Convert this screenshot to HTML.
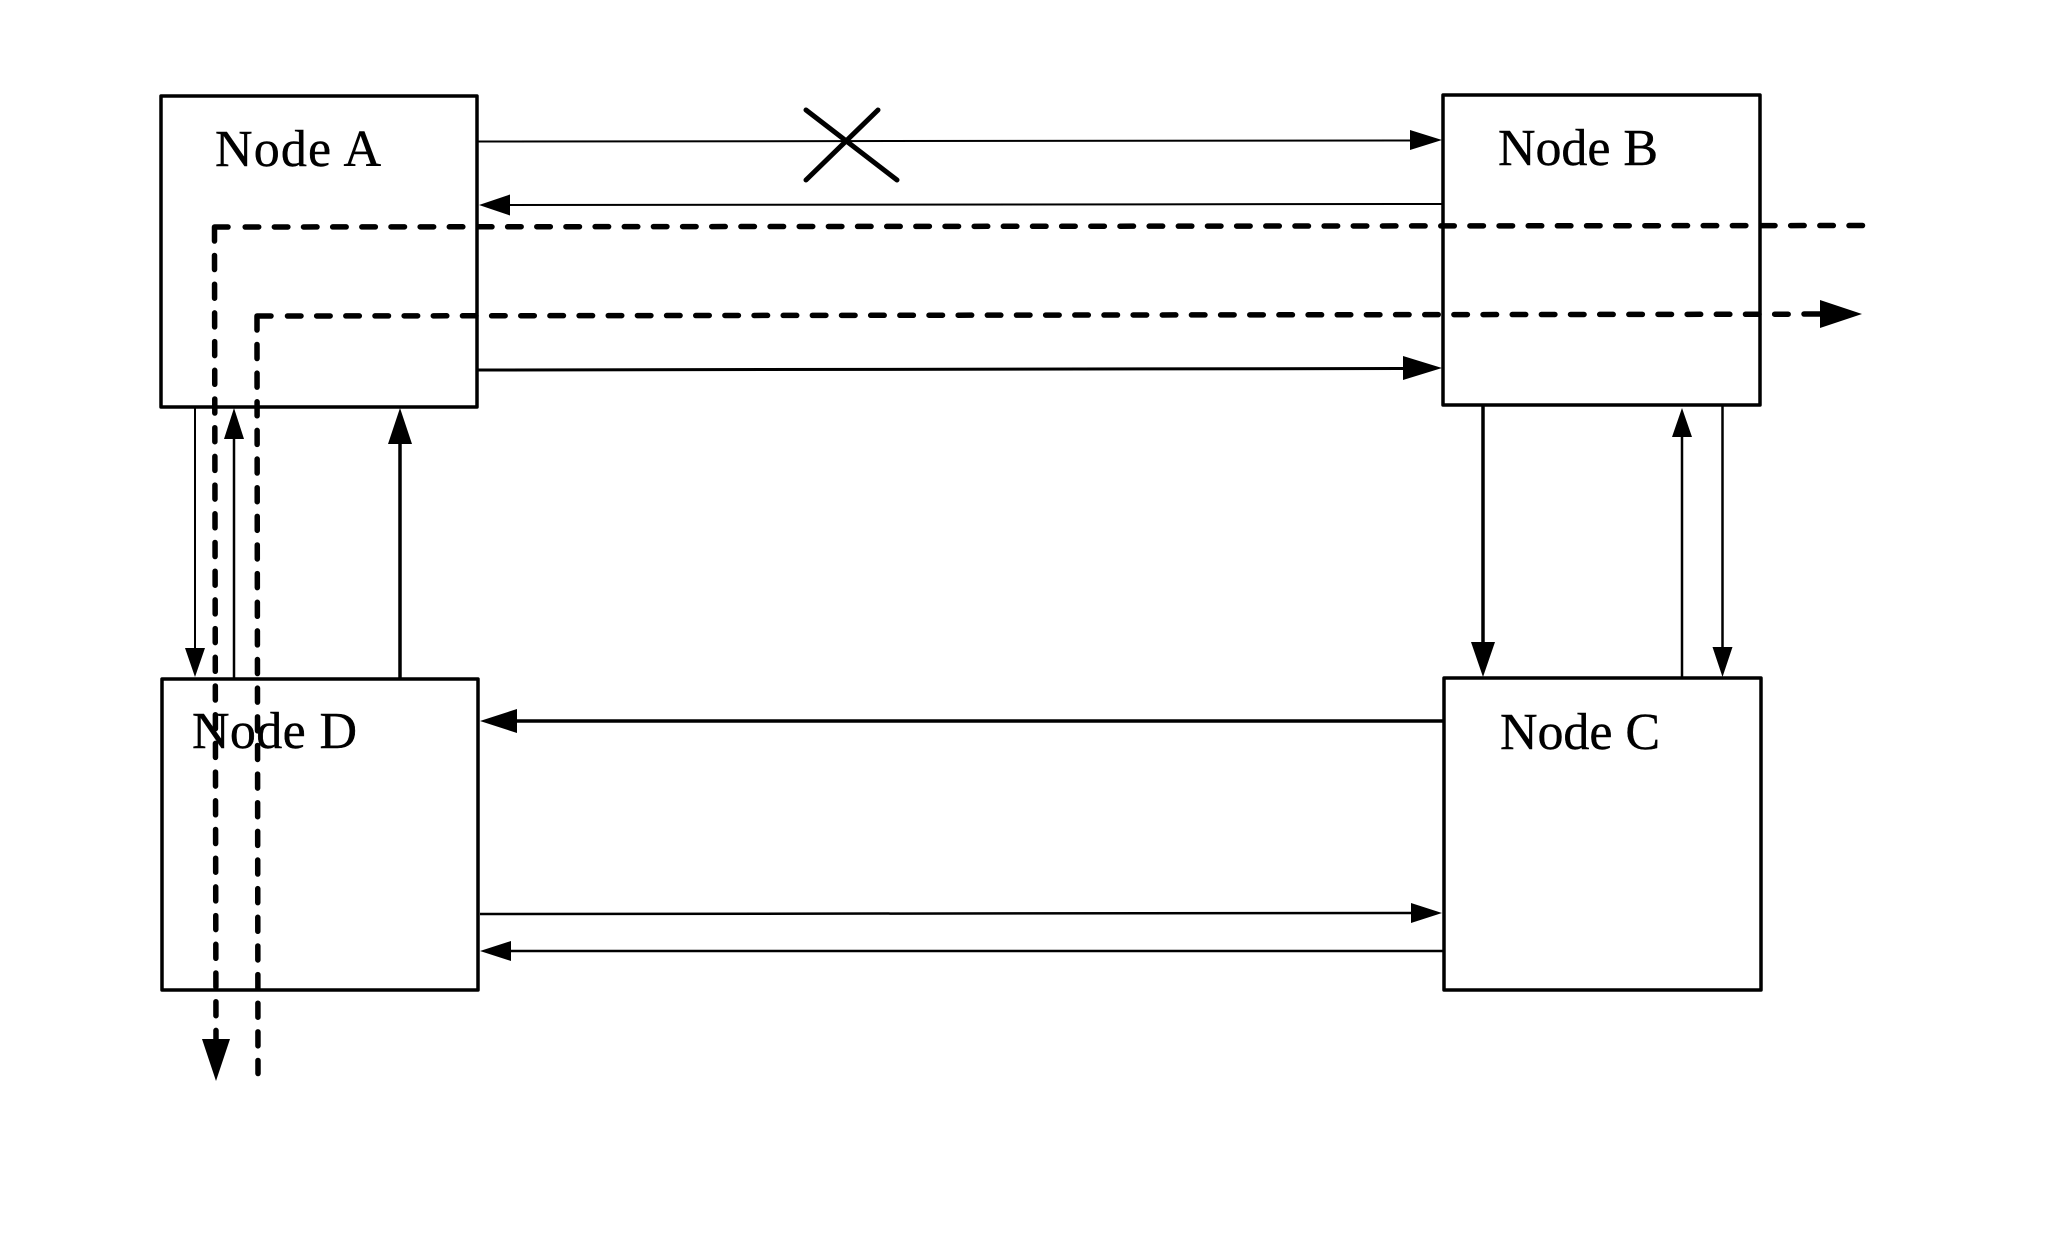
<!DOCTYPE html>
<html>
<head>
<meta charset="utf-8">
<style>
html,body{margin:0;padding:0;background:#fff;}
svg{display:block;}
text{font-family:"Liberation Serif",serif;font-size:52px;fill:#000;stroke:#000;stroke-width:0.4px;}
</style>
</head>
<body>
<svg width="2066" height="1237" viewBox="0 0 2066 1237" xmlns="http://www.w3.org/2000/svg">
<rect width="2066" height="1237" fill="#fff"/>
<!-- Nodes -->
<g fill="none" stroke="#000" stroke-width="3.5" stroke-linejoin="round">
<rect x="161" y="96" width="316" height="311"/>
<rect x="1443" y="95" width="317" height="310"/>
<rect x="1444" y="678" width="317" height="312"/>
<rect x="162" y="679" width="316" height="311"/>
</g>
<!-- Labels -->
<text x="215" y="166" textLength="166" lengthAdjust="spacing">Node A</text>
<text x="1498" y="165" textLength="160" lengthAdjust="spacing">Node B</text>
<text x="1500" y="749" textLength="160" lengthAdjust="spacing">Node C</text>
<text x="192" y="748" textLength="165" lengthAdjust="spacing">Node D</text>
<!-- Horizontal connectors -->
<g stroke="#000" fill="none">
<line x1="478" y1="141.5" x2="1415" y2="140.5" stroke-width="2"/>
<line x1="505" y1="205" x2="1443" y2="204" stroke-width="2"/>
<line x1="478" y1="370" x2="1410" y2="368.5" stroke-width="3"/>
<line x1="510" y1="721" x2="1444" y2="721" stroke-width="3.5"/>
<line x1="480" y1="914" x2="1415" y2="913" stroke-width="2.5"/>
<line x1="505" y1="951" x2="1444" y2="951" stroke-width="2.5"/>
<!-- Vertical connectors -->
<line x1="195" y1="407" x2="195" y2="650" stroke-width="2"/>
<line x1="234" y1="679" x2="234" y2="435" stroke-width="2.5"/>
<line x1="400" y1="679" x2="400" y2="440" stroke-width="3.5"/>
<line x1="1483" y1="405" x2="1483" y2="645" stroke-width="3.5"/>
<line x1="1682" y1="678" x2="1682" y2="435" stroke-width="2.5"/>
<line x1="1722.5" y1="405" x2="1722.5" y2="650" stroke-width="2.5"/>
</g>
<!-- Arrowheads -->
<g fill="#000" stroke="none">
<polygon points="1442,140 1410,130 1410,150"/>
<polygon points="479,205 510,194.5 510,215.5"/>
<polygon points="1442,368 1403,356 1403,380"/>
<polygon points="480,721 517,709 517,733"/>
<polygon points="1442,913 1411,903 1411,923"/>
<polygon points="480,951 511,941 511,961"/>
<polygon points="195,677 185,648 205,648"/>
<polygon points="234,408 224,439 244,439"/>
<polygon points="400,408 388,444 412,444"/>
<polygon points="1483,677 1471,642 1495,642"/>
<polygon points="1682,408 1672,437 1692,437"/>
<polygon points="1722.5,677 1712.5,647 1732.5,647"/>
<polygon points="216,1081 202,1039 230,1039"/>
<polygon points="1862,314 1820,300 1820,328"/>
</g>
<!-- Dashed paths -->
<g fill="none" stroke="#000" stroke-width="5.5" stroke-linecap="round" stroke-linejoin="round">
<line x1="1862.5" y1="225.5" x2="245" y2="227" stroke-dasharray="13.5 15.66"/>
<polyline points="228,227 214.5,227 214.5,241"/>
<line x1="214.5" y1="255.5" x2="216" y2="1040" stroke-dasharray="14 14.7"/>
<line x1="287.5" y1="316" x2="1790" y2="314.2" stroke-dasharray="13.5 15.66"/>
<line x1="1804" y1="314" x2="1825" y2="314"/>
<polyline points="271,316 257,316 257,330"/>
<line x1="257" y1="344.5" x2="258" y2="1073.5" stroke-dasharray="14 14.64"/>
</g>
<!-- Cross -->
<g stroke="#000" stroke-width="5" stroke-linecap="round">
<line x1="806" y1="110" x2="897" y2="180"/>
<line x1="878" y1="110" x2="806" y2="180"/>
</g>
</svg>
</body>
</html>
